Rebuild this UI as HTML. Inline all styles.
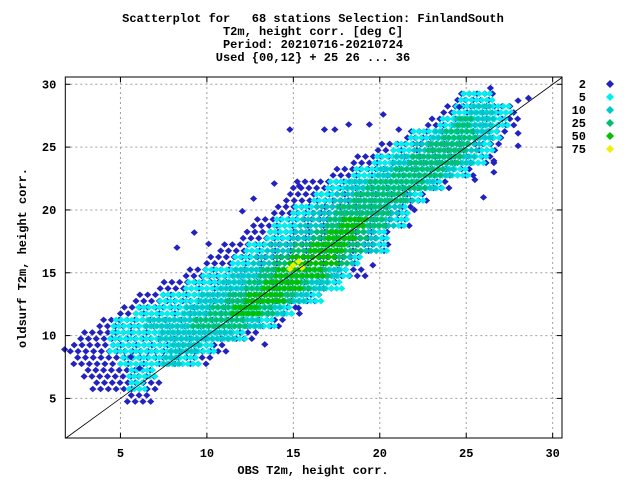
<!DOCTYPE html>
<html><head><meta charset="utf-8"><style>
body{margin:0;background:#fff}
svg text{font-family:"Liberation Mono",monospace;font-size:12px;font-weight:bold;fill:#000;white-space:pre}
</style></head><body>
<svg id="chart" width="640" height="480" xmlns="http://www.w3.org/2000/svg">
<g>
<text x="313" y="22" text-anchor="middle" xml:space="preserve">Scatterplot for   68 stations Selection: FinlandSouth</text>
<text x="313" y="35" text-anchor="middle">T2m, height corr. [deg C]</text>
<text x="313" y="48" text-anchor="middle">Period: 20210716-20210724</text>
<text x="313" y="61" text-anchor="middle">Used {00,12} + 25 26 ... 36</text>
</g>
<g id="grid"></g>
<g id="marks"></g>
<line id="diag" stroke="#000" stroke-width="0.8"/>
<rect x="65.3" y="77" width="496.7" height="361" fill="none" stroke="#000" stroke-width="1"/>
<g id="axes"></g>
<text x="313" y="474" text-anchor="middle">OBS T2m, height corr.</text>
<text transform="translate(26,258) rotate(-90)" text-anchor="middle">oldsurf T2m, height corr.</text>
<g id="legend"></g>
</svg>
<script>
const xTicks=[5,10,15,20,25,30];
const yTicks=[5,10,15,20,25,30];
const classLabels=["2","5","10","25","50","75"];
const classColors=["#2222c0","#00f0f0","#00c8c8","#00c070","#00c000","#f0f000"];
const rowY=[5,6,7,8,9,10,11,12,13,14,15,16,17,18,19,20,21,22,23,24,25,26,27,28,29];
const blueRange=[[5.4,6.9],[3.4,7.3],[2.9,7.1],[2.3,10.2],[2.1,11.2],[2.7,12.9],[3.8,14.4],[5.0,15.4],[5.9,16.6],[7.3,17.5],[8.8,19.3],[10.0,18.9],[10.8,20.6],[12.1,20.6],[12.7,21.8],[13.9,21.8],[14.6,22.9],[15.0,24.1],[17.3,25.5],[18.5,26.6],[19.9,27.0],[21.6,27.4],[22.8,28.0],[23.7,27.8],[24.5,26.6]];
const cyanRange=[null,[5.5,6.5],[5.5,7.0],[5.0,9.5],[4.4,10.4],[4.4,12.3],[4.6,13.9],[5.9,15.0],[7.3,16.6],[8.8,17.9],[9.8,18.3],[11.5,18.9],[12.3,20.4],[13.5,20.4],[13.9,21.6],[15.0,21.6],[16.2,22.6],[17.0,23.7],[18.5,25.1],[19.7,26.2],[20.8,26.6],[21.8,27.0],[23.5,27.4],[24.3,27.6],[24.7,26.6]];
const tealRange=[null,null,null,[7.5,8.5],[7.9,9.6],[7.3,11.5],[6.5,13.1],[8.7,14.5],[9.6,15.8],[10.8,17.0],[11.5,17.7],[12.7,18.5],[13.5,19.9],[15.0,19.9],[15.4,20.8],[16.2,21.2],[17.4,22.0],[18.1,23.2],[19.9,24.3],[20.8,25.5],[22.0,25.8],[23.1,26.4],[24.3,26.6],[25.3,26.6],null];
const greenRange=[null,null,null,null,null,null,[9.2,12.3],[10.2,13.9],[11.2,15.0],[12.3,16.0],[13.1,17.0],[13.9,18.1],[15.0,18.9],[16.2,19.3],[17.0,20.4],[17.5,20.6],[18.5,21.6],[19.3,22.6],[20.8,23.7],[21.8,24.7],[22.8,25.1],[23.7,25.5],[24.5,25.3],null,null];
const darkGreenRange=[null,null,null,null,null,null,null,[11.5,13.0],[12.3,14.5],[13.3,15.5],[14.0,16.8],[14.8,17.5],[16.0,18.0],[17.0,18.5],[17.8,19.2],null,null,null,null,null,null,null,null,null,null];
const yellowX=[14.8,15.0,15.3,15.5];
const yellowY=[15.3,15.6,15.9,15.4];
const outX=[14.8,16.8,17.4,18.2,20.2,28.6,28.0,28.0,28.0,26.0,22.0,19.6,13.35,15.3,9.27,12.7,15.34,1.77,26.4,26.6,26.6,25.5,13.9,21.1,19.4,24.6,8.27,10.1,12.05,6.1,5.6];
const outY=[26.4,26.4,26.4,26.8,27.6,28.9,28.7,26.1,25.1,21.0,20.0,15.6,9.3,12.2,18.2,20.9,21.9,8.9,29.7,23.0,23.9,22.4,22.1,26.4,26.8,28.2,17.0,17.3,19.9,7.4,8.3];

const X0=65.3,X1=562,Y0=438,Y1=77,XMIN=1.81,XMAX=30.54,YMIN=1.85,YMAX=30.58;
const sx=v=>X0+(v-XMIN)/(XMAX-XMIN)*(X1-X0);
const sy=v=>Y0-(v-YMIN)/(YMAX-YMIN)*(Y0-Y1);
const NS="http://www.w3.org/2000/svg";
function mk(tag,attrs,parent){const e=document.createElementNS(NS,tag);for(const k in attrs)e.setAttribute(k,attrs[k]);parent.appendChild(e);return e;}
const grid=document.getElementById('grid'),axes=document.getElementById('axes'),marks=document.getElementById('marks');
xTicks.forEach(t=>{const x=sx(t);
 const g=mk('line',{x1:x,x2:x,y1:Y1,y2:Y0,stroke:'#a0a0a0','stroke-dasharray':'2,3'},grid);
 
 
 mk('line',{x1:x,x2:x,y1:Y0,y2:Y0-5,stroke:'#000'},axes);mk('line',{x1:x,x2:x,y1:Y1,y2:Y1+5,stroke:'#000'},axes);
 const l=mk('text',{x:x,y:Y0+19,'text-anchor':'middle'},axes);l.textContent=t;
 
 
});
yTicks.forEach(t=>{const y=sy(t);
 const g=mk('line',{x1:X0,x2:X1,y1:y,y2:y,stroke:'#a0a0a0','stroke-dasharray':'2,3'},grid);
 
 
 mk('line',{x1:X0,x2:X0+5,y1:y,y2:y,stroke:'#000'},axes);mk('line',{x1:X1,x2:X1-5,y1:y,y2:y,stroke:'#000'},axes);
 const l=mk('text',{x:X0-9,y:y+4,'text-anchor':'end'},axes);l.textContent=t;
 
 
});
const d=document.getElementById('diag');
d.setAttribute('x1',sx(Math.max(XMIN,YMIN)));d.setAttribute('y1',sy(Math.max(XMIN,YMIN)));
d.setAttribute('x2',sx(Math.min(XMAX,YMAX)));d.setAttribute('y2',sy(Math.min(XMAX,YMAX)));
function diamond(x,y,c,name){const px=sx(x),py=sy(y);
 const p=mk('path',{d:`M${px-3.6},${py}L${px},${py-3.3}L${px+3.6},${py}L${px},${py+3.3}Z`,fill:c},marks);
 
 
}
const ranges=[blueRange,cyanRange,tealRange,greenRange,darkGreenRange];
const xSteps=[0.45,0.3,0.3,0.3,0.3];
ranges.forEach((R,ci)=>{
 rowY.forEach((y,i)=>{const r=R[i];if(!r)return;
  [-0.25,0.25].forEach((dy,k)=>{
   const off=(k%2)*xSteps[ci]/2;
   for(let x=r[0]+off;x<=r[1]+1e-6;x+=xSteps[ci]){diamond(x,y+dy,classColors[ci],'point-class-'+classLabels[ci]);}
  });
 });
});
outX.forEach((x,i)=>diamond(x,outY[i],classColors[0],'outlier-point'));
yellowX.forEach((x,i)=>diamond(x,yellowY[i],classColors[5],'point-class-75'));
const leg=document.getElementById('legend');
classLabels.forEach((lab,i)=>{const y=84+i*13;
 const t=mk('text',{x:586,y:y+4,'text-anchor':'end'},leg);t.textContent=lab;
 
 
 const p=mk('path',{d:`M606,${y}L610,${y-4}L614,${y}L610,${y+4}Z`,fill:classColors[i]},leg);
 
 
});
</script>
</body></html>
